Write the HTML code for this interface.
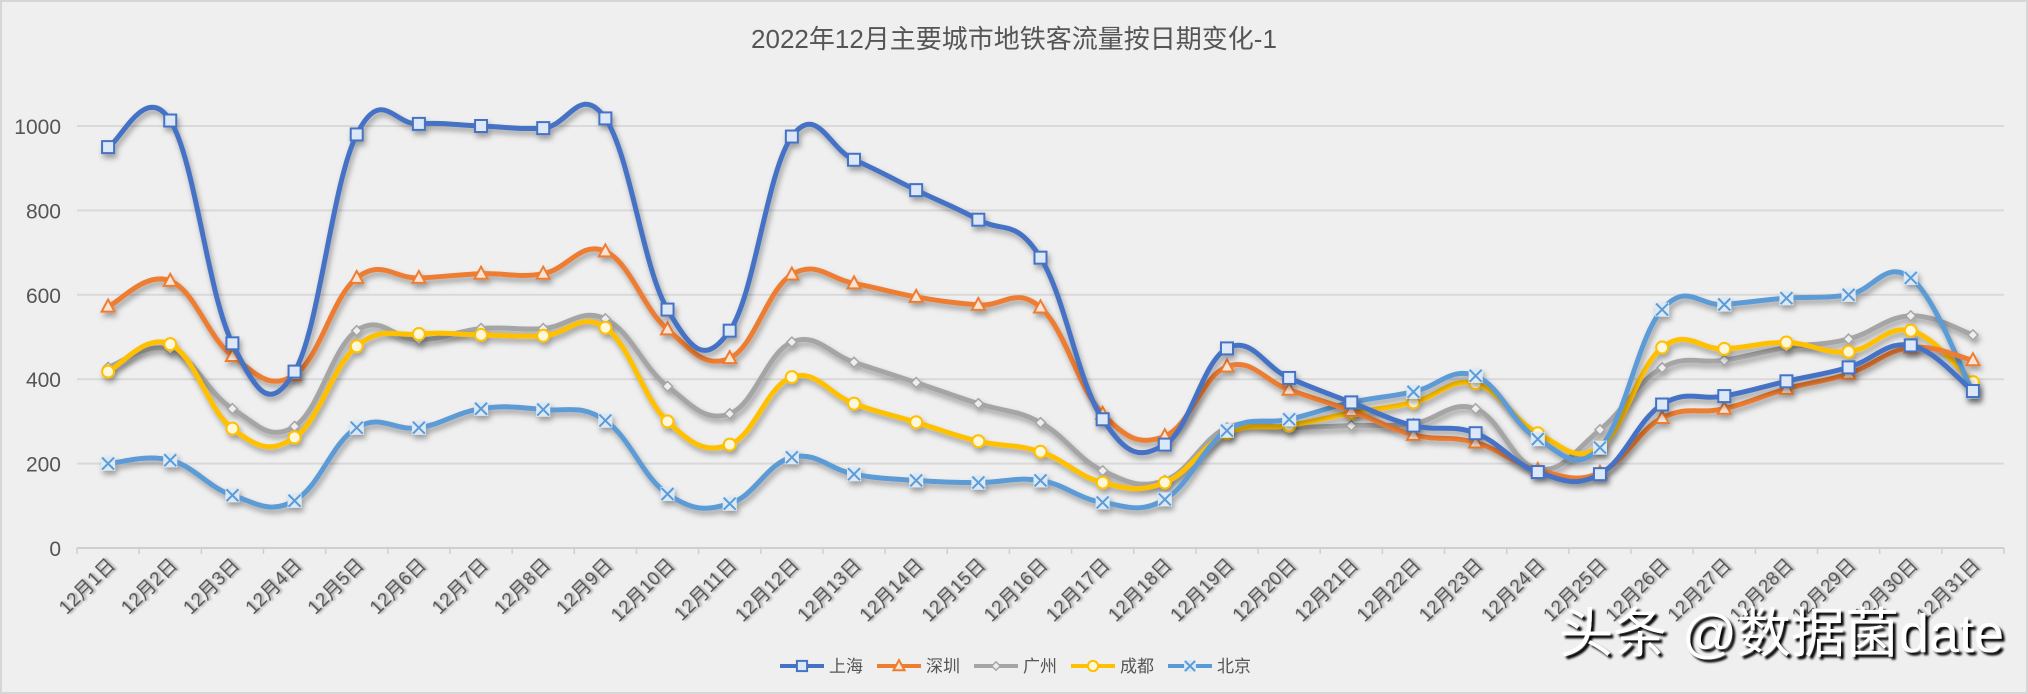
<!DOCTYPE html>
<html><head><meta charset="utf-8"><style>
html,body{margin:0;padding:0;background:#efefef;}
svg{display:block;font-family:"Liberation Sans","Noto Sans CJK SC",sans-serif;}
</style></head><body>
<svg id="chart" width="2028" height="694" viewBox="0 0 2028 694">
<defs>
<filter id="sh" x="-5%" y="-5%" width="110%" height="120%"><feDropShadow dx="2" dy="4" stdDeviation="3" flood-color="#000" flood-opacity="0.35"/></filter>
<filter id="tsh" x="-10%" y="-10%" width="130%" height="140%"><feDropShadow dx="1.5" dy="1.5" stdDeviation="1" flood-color="#000" flood-opacity="0.35"/></filter>
<filter id="wsh" x="-5%" y="-10%" width="115%" height="140%"><feDropShadow dx="3" dy="3" stdDeviation="1" flood-color="#000" flood-opacity="1"/></filter>
</defs>
<rect x="1" y="1" width="2026" height="692" fill="#efefef" stroke="#d6d6d6" stroke-width="2"/>
<text x="1014" y="48" text-anchor="middle" font-size="26" fill="#555">2022年12月主要城市地铁客流量按日期变化-1</text>
<g id="grid"></g><g id="xlabels"></g><g id="series"></g><g id="legend"></g>
<text x="2004" y="652" text-anchor="end" font-size="54" fill="#fff" filter="url(#wsh)">头条 @数据菌date</text>
</svg>
<script>
const categories=[];for(let i=1;i<=31;i++)categories.push('12月'+i+'日');
const yTicks=[0,200,400,600,800,1000];
const seriesNames=['上海','深圳','广州','成都','北京'];
const shanghai=[950,1013,485,418,980,1005,1000,995,1018,565,515,975,920,848,778,688,305,245,473,403,345,290,272,180,175,340,360,395,428,480,372];
const shenzhen=[572,633,455,410,640,640,650,650,703,518,450,648,627,595,576,570,318,265,430,375,325,268,250,185,178,308,330,377,413,475,445];
const guangzhou=[428,470,330,288,515,493,520,520,543,383,318,488,440,392,342,297,183,160,285,285,290,295,330,187,280,427,445,475,495,550,505];
const chengdu=[418,483,283,262,478,507,505,503,522,300,245,405,342,298,253,228,155,155,272,290,320,345,390,272,240,475,472,487,465,515,393];
const beijing=[200,208,125,112,285,285,330,328,302,128,105,215,175,160,155,160,108,115,278,305,345,370,408,258,238,565,577,592,600,640,370];
const NS='http://www.w3.org/2000/svg';
const L=77,R=2004,T=126,B=548;
const cw=(R-L)/categories.length;
const x=i=>L+cw*(i+0.5);
const y=v=>B-(v/1000)*(B-T);
function mk(tag,attrs,parent){const e=document.createElementNS(NS,tag);for(const k in attrs)e.setAttribute(k,attrs[k]);parent.appendChild(e);return e;}
const grid=document.getElementById('grid');
yTicks.forEach(t=>{
  const ln=mk('line',{x1:L,x2:R,y1:y(t),y2:y(t),stroke:t===0?'#cfcfcf':'#d9d9d9','stroke-width':2},grid);
  
  
  const tx=mk('text',{x:L-16,y:y(t)+8,'text-anchor':'end','font-size':21,fill:'#555'},grid);
  tx.textContent=t;
  
  
});
for(let i=0;i<=categories.length;i++){
  const tk=mk('line',{x1:L+cw*i,x2:L+cw*i,y1:B,y2:B+6,stroke:'#cfcfcf','stroke-width':1.5},grid);
  
  
}
const xl=document.getElementById('xlabels');
categories.forEach((c,i)=>{
  const tx=mk('text',{x:x(i)+8,y:B+18,'text-anchor':'end','font-size':19,fill:'#555',filter:'url(#tsh)',transform:`rotate(-45 ${x(i)+8} ${B+18})`},xl);
  tx.textContent=c;
  
  
});
const data=[shanghai,shenzhen,guangzhou,chengdu,beijing];
const colors=['#4472C4','#ED7D31','#A5A5A5','#FFC000','#5B9BD5'];
const markers=['square','triangle','diamond','circle','x'];
const slugs=['shanghai','shenzhen','guangzhou','chengdu','beijing'];
function smooth(pts){let d=`M${pts[0][0]},${pts[0][1]}`;const t=0.2;
  for(let i=0;i<pts.length-1;i++){const p0=pts[i-1]||pts[i],p1=pts[i],p2=pts[i+1],p3=pts[i+2]||p2;
    const c1=[p1[0]+(p2[0]-p0[0])*t,p1[1]+(p2[1]-p0[1])*t],c2=[p2[0]-(p3[0]-p1[0])*t,p2[1]-(p3[1]-p1[1])*t];
    d+=` C${c1[0]},${c1[1]} ${c2[0]},${c2[1]} ${p2[0]},${p2[1]}`;}return d;}
function marker(type,cx,cy,col,parent,s){
  s=s||1;let e;
  if(type==='square')e=mk('rect',{x:cx-6*s,y:cy-6*s,width:12*s,height:12*s,fill:'#dce8f7',stroke:col,'stroke-width':2},parent);
  else if(type==='triangle')e=mk('polygon',{points:`${cx},${cy-7*s} ${cx+6.5*s},${cy+5*s} ${cx-6.5*s},${cy+5*s}`,fill:'#fbe3d3',stroke:col,'stroke-width':2},parent);
  else if(type==='diamond')e=mk('polygon',{points:`${cx},${cy-5*s} ${cx+5*s},${cy} ${cx},${cy+5*s} ${cx-5*s},${cy}`,fill:'#eee',stroke:col,'stroke-width':1.5},parent);
  else if(type==='circle')e=mk('circle',{cx:cx,cy:cy,r:6*s,fill:'#fff7d9',stroke:col,'stroke-width':2},parent);
  else {e=mk('g',{},parent);mk('rect',{x:cx-7*s,y:cy-7*s,width:14*s,height:14*s,fill:'#dbe8f5',stroke:'none'},e);
    mk('path',{d:`M${cx-6*s},${cy-6*s}L${cx+6*s},${cy+6*s}M${cx+6*s},${cy-6*s}L${cx-6*s},${cy+6*s}`,stroke:col,'stroke-width':2},e);}
  return e;}
const sg=document.getElementById('series');
[2,3,4,1,0].forEach(si=>{
  const g=mk('g',{filter:'url(#sh)'},sg);
  
  
  const pts=data[si].map((v,i)=>[x(i),y(v)]);
  const p=mk('path',{d:smooth(pts),fill:'none',stroke:colors[si],'stroke-width':5,'stroke-linejoin':'round'},g);
  
  
  pts.forEach((pt,i)=>{const m=marker(markers[si],pt[0],pt[1],colors[si],g);
    
    });
});
const lg=document.getElementById('legend');
let lx=780;const ly=666;
seriesNames.forEach((n,si)=>{
  const g=mk('g',{},lg);
  
  
  mk('line',{x1:lx,x2:lx+44,y1:ly,y2:ly,stroke:colors[si],'stroke-width':4},g);
  marker(markers[si],lx+22,ly,colors[si],g,0.85);
  const t=mk('text',{x:lx+49,y:ly+6,'font-size':17,fill:'#555'},g);t.textContent=n;
  lx+=49+n.length*17+14;
});
</script>
</body></html>
